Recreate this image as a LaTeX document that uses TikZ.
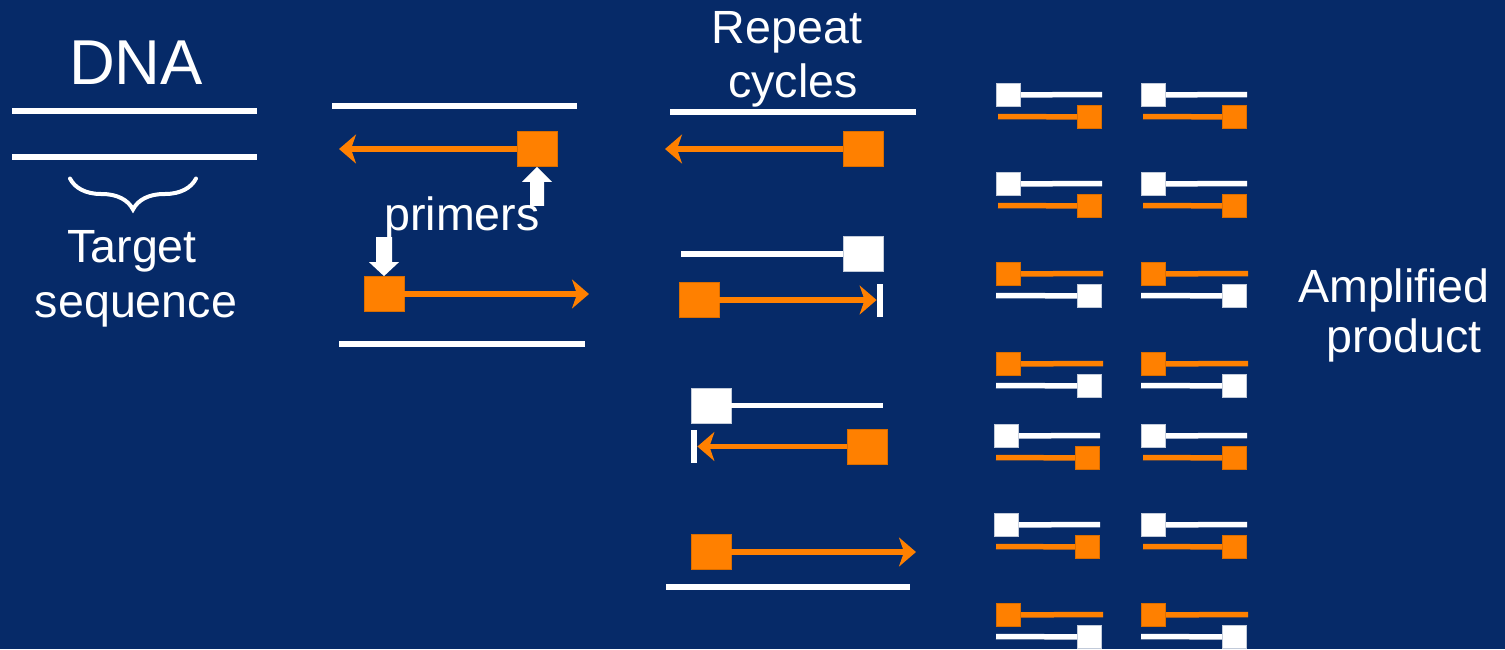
\documentclass[tikz,border=0pt]{standalone}
\usepackage{fontspec}
\setmainfont{Liberation Sans}
\usetikzlibrary{arrows.meta,decorations.pathreplacing}
\definecolor{bg}{RGB}{6,42,104}
\definecolor{pcr}{RGB}{255,128,0}

\tikzset{
  strand/.style={line width=2.75pt, line cap=butt},
  wstrand/.style={strand, white},
  ostrand/.style={strand, pcr},
  ext/.style={ostrand, -{Stealth[length=8.5pt,width=14.5pt,inset=2.5pt]}},
  bigbox/.style={rectangle, inner sep=0pt, minimum width=20pt, minimum height=17.5pt},
  smallbox/.style={rectangle, inner sep=0pt, minimum width=12pt, minimum height=11.5pt},
  obox/.style={fill=pcr, draw=pcr!85!black, line width=0.4pt},
  wbox/.style={fill=white, draw=white!75!bg, line width=0.4pt},
  stopbar/.style={rectangle, fill=white, inner sep=0pt, minimum width=3pt, minimum height=16.5pt},
  caption/.style={text=white, font=\fontsize{23.3}{28}\selectfont, inner sep=0pt, anchor=base},
  % short duplex: white primer strand on top, orange copy below
  wo/.pic={
    \node[smallbox, wbox, anchor=north west] (-top) at (0,0) {};
    \coordinate (-topend) at (106,11.5);
    \draw[wstrand] (-top.east) -- (-topend);
    \node[smallbox, obox, anchor=north west] (-bot) at (81,22) {};
    \coordinate (-botstart) at (2,33.5);
    \draw[ostrand] (-botstart) -- (-bot.west);
  },
  % short duplex: orange strand on top, white copy below
  ow/.pic={
    \node[smallbox, obox, anchor=north west] (-top) at (0,0) {};
    \coordinate (-topend) at (107,11.5);
    \draw[ostrand] (-top.east) -- (-topend);
    \node[smallbox, wbox, anchor=north west] (-bot) at (81,22) {};
    \coordinate (-botstart) at (0,33.5);
    \draw[wstrand] (-botstart) -- (-bot.west);
  }
}

\begin{document}
\begin{tikzpicture}[x=0.5pt,y=-0.5pt]
\useasboundingbox (0,0) rectangle (1505,649);
\fill[bg] (0,0) rectangle (1505,649);

% ---------- DNA and target ----------
\node[caption, font=\fontsize{31.7}{38}\selectfont] (dna) at (136,84) {DNA};
\coordinate (d1a) at (12,111);  \coordinate (d1b) at (257,111);
\coordinate (d2a) at (12,157);  \coordinate (d2b) at (257,157);
\draw[wstrand] (d1a) -- (d1b);
\draw[wstrand] (d2a) -- (d2b);
\coordinate (brL) at (70,178.5);  \coordinate (brR) at (196,178.5);
\draw[white, line width=2pt, line cap=round, decorate,
      decoration={brace, mirror, amplitude=15.5pt, aspect=0.5}] (brL) -- (brR);
\node[caption] (target) at (132,262) {Target};
\node[caption] (sequence) at (136,317) {sequence};

% ---------- primer annealing ----------
\coordinate (p1a) at (332,106);  \coordinate (p1b) at (577,106);
\draw[wstrand] (p1a) -- (p1b);
\node[bigbox, obox] (sqA) at (537,149) {};
\coordinate (tipA) at (339,149);
\draw[ext] (sqA.west) -- (tipA);
\fill[white] (sqA.south) -- ++(15,15) -- ++(-8,0) -- ++(0,24) -- ++(-14,0) -- ++(0,-24) -- ++(-8,0) -- cycle;

\node[caption] (primers) at (462,230) {primers};

\node[bigbox, obox] (sqB) at (384,294) {};
\coordinate (tipB) at (589,294);
\draw[ext] (sqB.east) -- (tipB);
\fill[white] (sqB.north) -- ++(15,-14) -- ++(-7,0) -- ++(0,-25) -- ++(-16,0) -- ++(0,25) -- ++(-7,0) -- cycle;
\coordinate (p2a) at (339,344);  \coordinate (p2b) at (585,344);
\draw[wstrand] (p2a) -- (p2b);

% ---------- repeat cycles ----------
\node[caption] (repeat) at (787,43) {Repeat};
\node[caption] (cycles) at (793,97) {cycles};
\coordinate (c1a) at (670,112);  \coordinate (c1b) at (916,112);
\draw[wstrand] (c1a) -- (c1b);
\node[bigbox, obox] (sqC) at (863,149) {};
\coordinate (tipC) at (665,149);
\draw[ext] (sqC.west) -- (tipC);

\node[bigbox, wbox] (sqD) at (863,254) {};
\coordinate (c2a) at (681,254);
\draw[wstrand] (c2a) -- (sqD.west);
\node[bigbox, obox] (sqE) at (699,300) {};
\node[stopbar] (bar1) at (880,300) {};
\draw[ext] (sqE.east) -- (bar1.west);

\node[bigbox, wbox] (sqF) at (711,405.5) {};
\coordinate (c3b) at (883,405.5);
\draw[wstrand] (sqF.east) -- (c3b);
\node[stopbar] (bar2) at (694,446.5) {};
\node[bigbox, obox] (sqG) at (867.5,446.5) {};
\draw[ext] (sqG.west) -- (bar2.east);

\node[bigbox, obox] (sqH) at (711,552) {};
\coordinate (tipH) at (916,552);
\draw[ext] (sqH.east) -- (tipH);
\coordinate (c4a) at (666,587);  \coordinate (c4b) at (910,587);
\draw[wstrand] (c4a) -- (c4b);

% ---------- amplified product ----------
\pic (r1a) at (996,83)  {wo};  \pic (r1b) at (1141,83)  {wo};
\pic (r2a) at (996,172) {wo};  \pic (r2b) at (1141,172) {wo};
\pic (r3a) at (996,262) {ow};  \pic (r3b) at (1141,262) {ow};
\pic (r4a) at (996,352) {ow};  \pic (r4b) at (1141,352) {ow};
\pic (r5a) at (994,424) {wo};  \pic (r5b) at (1141,424) {wo};
\pic (r6a) at (994,513) {wo};  \pic (r6b) at (1141,513) {wo};
\pic (r7a) at (996,603) {ow};  \pic (r7b) at (1141,603) {ow};

\node[caption] (amplified) at (1394,302) {Amplified};
\node[caption] (product) at (1404,352) {product};
\end{tikzpicture}
\end{document}
